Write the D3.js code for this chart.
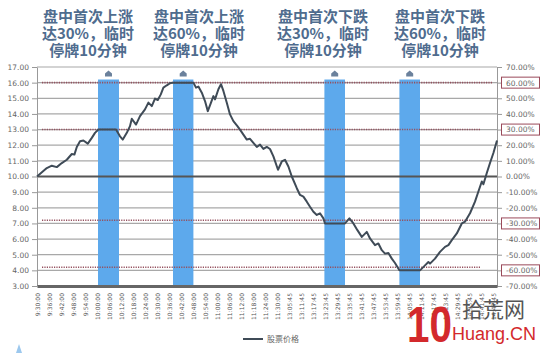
<!DOCTYPE html>
<html>
<head>
<meta charset="utf-8">
<script src="https://cdn.jsdelivr.net/npm/d3@7"></script>
<style>
  body { margin: 0; background: #fff; }
  svg { display: block; }
</style>
</head>
<body>
<svg id="chart"></svg>
<script>
// Category axis labels, one every 6 minutes of trading
const timeLabels = [
  '9:30:00', '9:36:00', '9:42:00', '9:48:00', '9:54:00', '10:00:00', '10:06:00',
  '10:12:00', '10:18:00', '10:24:00', '10:30:00', '10:36:00', '10:42:00', '10:48:00',
  '10:54:00', '11:00:00', '11:06:00', '11:12:00', '11:18:00', '11:24:00', '11:30:00',
  '13:05:45', '13:11:45', '13:17:45', '13:23:45', '13:29:45', '13:35:45', '13:41:45',
  '13:47:45', '13:53:45', '13:59:45', '14:05:45', '14:11:45', '14:17:45', '14:23:45',
  '14:29:45', '14:35:45', '14:41:45', '14:47:45'
];

// Stock price path: minute since open -> price
const minutes = [
  0, 4.9, 7.4, 9.9, 12.4, 14.9, 17.4, 18.7, 19.9, 21.5, 23.2, 25.4, 27.4, 29, 30.7,
  39.5, 41.5, 42.9, 44.9, 46.5, 47.4, 49.5, 51.5, 54, 55.7, 57.4, 59, 60.4, 61.9,
  63.2, 64.9, 66.5, 67.9, 78.2, 79.5, 80.7, 82.4, 84, 85.4, 87, 88.2, 89, 90.7,
  92, 93.2, 94.9, 96.5, 98.2, 100.2, 101.5, 103.2, 104.9, 106.5, 108.2, 109.9,
  111.5, 113.2, 114.9, 116.5, 118.2, 120.5, 122.4, 124, 125.7, 127.4, 129.9,
  131.5, 133.2, 134.9, 136.5, 138.2, 139.9, 141.5, 143.2, 144, 154, 156.2, 158.2,
  160.2, 162.4, 164.9, 166.5, 169, 170.7, 172.4, 174, 175.7, 177.4, 179, 181.2,
  191.5, 194, 195.7, 196.5, 199, 201.5, 204, 205.7, 207.4, 209.9, 212.4, 214,
  216.5, 219, 220.7, 222.4, 223.2, 224.9, 226.5, 228.2, 230
];
const prices = [
  10.0, 10.54, 10.69, 10.6, 10.86, 11.07, 11.44, 11.4, 11.89, 12.25, 12.3, 12.1, 12.47, 12.79, 13.0,
  13.0, 12.57, 12.36, 12.79, 13.22, 13.69, 13.32, 13.86, 14.29, 14.72, 14.5, 14.98, 14.89, 15.25,
  15.68, 15.83, 15.96, 16.0, 16.0, 15.68, 15.75, 15.36, 14.82, 14.18, 14.72, 15.14, 14.93, 15.58,
  15.9, 15.47, 14.72, 13.97, 13.54, 13.22, 13.0, 12.68, 12.36, 12.41, 12.15, 11.89,
  12.04, 11.76, 11.89, 11.76, 11.29, 10.43, 10.96, 11.07, 10.64, 10.0, 9.25,
  8.82, 8.71, 8.39, 8.07, 7.75, 7.54, 7.65, 7.32, 7.0, 7.0, 7.32, 7.0,
  6.57, 6.14, 6.46, 6.04, 5.61, 5.72, 5.29, 5.07, 5.11, 4.75, 4.47, 4.0,
  4.0, 4.32, 4.53, 4.43, 4.75, 5.18, 5.5, 5.61, 5.93, 6.36, 7.0, 7.11,
  7.65, 8.39, 9.04, 9.68, 9.5, 10.22, 10.86, 11.5, 12.3
];

// Trading halts: [start minute, end minute]
const halts = [[30.5, 41], [68, 78.2], [143.7, 154], [181.2, 191.5]];
const haltTop = 16.2;

// Reference levels (price) drawn as dotted lines, and boxed right-axis ticks
const refLevels = [16, 13, 7.2, 4.2];
const boxedPercents = [60, 30, -30, -60];

// Annotation text above each halt
const titles = [
  ['盘中首次上涨', '达30%，临时', '停牌10分钟'],
  ['盘中首次上涨', '达60%，临时', '停牌10分钟'],
  ['盘中首次下跌', '达30%，临时', '停牌10分钟'],
  ['盘中首次下跌', '达60%，临时', '停牌10分钟']
];
const legendLabel = '股票价格';

const width = 550, height = 353;
const titleX = [88, 199, 323, 440];

const svg = d3.select('#chart').attr('width', width).attr('height', height);

const x = d3.scaleLinear().domain([0, 230]).range([37, 497]);
const y = d3.scaleLinear().domain([3, 17]).range([286, 67]);
const yR = d3.scaleLinear().domain([-70, 70]).range([286, 67]);

// gridlines
svg.append('g')
  .selectAll('line')
  .data(d3.range(4, 18).filter(v => v !== 10))
  .enter().append('line')
  .attr('x1', x(0)).attr('x2', x(230))
  .attr('y1', d => y(d)).attr('y2', d => y(d))
  .attr('stroke', '#a8a8a8').attr('stroke-width', 1.2);

// halt bars
svg.append('g')
  .selectAll('rect')
  .data(halts)
  .enter().append('rect')
  .attr('x', d => x(d[0]))
  .attr('width', d => x(d[1]) - x(d[0]))
  .attr('y', y(haltTop))
  .attr('height', y(3) - y(haltTop))
  .attr('fill', '#5da9ec');

// small markers above the bars
svg.append('g')
  .selectAll('path')
  .data(halts)
  .enter().append('path')
  .attr('d', d => {
    const cx = x((d[0] + d[1]) / 2), t = y(haltTop) - 9;
    return `M${cx},${t} L${cx + 3.5},${t + 3} L${cx + 3.5},${t + 6} L${cx - 3.5},${t + 6} L${cx - 3.5},${t + 3} Z`;
  })
  .attr('fill', '#6b819c');

// zero line (10.00 / 0%)
svg.append('line')
  .attr('x1', x(0)).attr('x2', x(230))
  .attr('y1', y(10)).attr('y2', y(10))
  .attr('stroke', '#555').attr('stroke-width', 2);

// dotted reference lines
svg.append('g')
  .selectAll('line')
  .data(refLevels)
  .enter().append('line')
  .attr('x1', 42).attr('x2', (d, i) => i % 2 ? 480 : 492)
  .attr('y1', d => y(d)).attr('y2', d => y(d))
  .attr('stroke', '#94505e').attr('stroke-width', 1.6)
  .attr('stroke-dasharray', '1.2,1.2');

// left axis
const leftAxis = svg.append('g')
  .attr('transform', 'translate(' + x(0) + ',0)')
  .call(d3.axisLeft(y).tickValues(d3.range(3, 18)).tickFormat(d3.format('.2f'))
    .tickSize(5).tickSizeOuter(0).tickPadding(3));

// right axis
const rightAxis = svg.append('g')
  .attr('transform', 'translate(' + x(230) + ',0)')
  .call(d3.axisRight(yR).tickValues(d3.range(-70, 71, 10)).tickFormat(d => d.toFixed(2) + '%')
    .tickSize(5).tickSizeOuter(0).tickPadding(4));

[leftAxis, rightAxis].forEach(g => {
  g.select('.domain').attr('stroke', '#999');
  g.selectAll('.tick line').attr('stroke', '#999');
  g.selectAll('text')
    .attr('font-family', 'DejaVu Sans')
    .attr('font-size', 7.5)
    .attr('fill', '#666');
});

// boxes round the key percentages
svg.append('g')
  .selectAll('rect')
  .data(boxedPercents)
  .enter().append('rect')
  .attr('x', x(230) + 4.5)
  .attr('y', d => yR(d) - 5.5)
  .attr('width', 38)
  .attr('height', 11)
  .attr('fill', 'none')
  .attr('stroke', '#9a4a5a')
  .attr('stroke-width', 1);

// bottom axis
const bottomAxis = svg.append('g')
  .attr('transform', 'translate(0,' + y(3) + ')')
  .call(d3.axisBottom(x).tickValues(timeLabels.map((d, i) => i * 6))
    .tickFormat((d, i) => timeLabels[i]).tickSize(0).tickSizeOuter(0));

bottomAxis.select('.domain').attr('stroke', '#666').attr('stroke-width', 3);
bottomAxis.selectAll('text')
  .attr('transform', 'rotate(-90)')
  .attr('x', -7)
  .attr('y', 0)
  .attr('dy', '0.35em')
  .attr('text-anchor', 'end')
  .attr('font-family', 'DejaVu Sans')
  .attr('font-size', 6)
  .attr('fill', '#555');

// price line
const line = d3.line()
  .x((d, i) => x(minutes[i]))
  .y(d => y(d));

svg.append('path')
  .datum(prices)
  .attr('d', line)
  .attr('fill', 'none')
  .attr('stroke', '#3f4b57')
  .attr('stroke-width', 2)
  .attr('stroke-linejoin', 'round');

// titles
titles.forEach((lines, k) => {
  svg.append('text')
    .attr('x', titleX[k])
    .attr('font-family', 'Noto Sans CJK SC')
    .attr('font-weight', 'bold')
    .attr('font-size', 15)
    .attr('fill', '#4f6c8e')
    .attr('text-anchor', 'middle')
    .selectAll('tspan')
    .data(lines)
    .enter().append('tspan')
    .attr('x', titleX[k])
    .attr('y', (d, i) => 22 + i * 17)
    .text(d => d);
});

// legend
svg.append('line')
  .attr('x1', 243).attr('x2', 263).attr('y1', 339).attr('y2', 339)
  .attr('stroke', '#3f4b57').attr('stroke-width', 2);
svg.append('text')
  .attr('x', 267).attr('y', 342)
  .attr('font-family', 'Noto Sans CJK SC')
  .attr('font-size', 8)
  .attr('fill', '#666')
  .text(legendLabel);

// decorative triangle, bottom left
svg.append('path')
  .attr('d', 'M13,362 L19,344 L25,362 Z')
  .attr('fill', '#9cc8ee');

// watermark
svg.append('text')
  .attr('x', 407).attr('y', 342)
  .attr('font-family', 'Liberation Sans')
  .attr('font-weight', 'bold')
  .attr('font-size', 50)
  .attr('textLength', 45)
  .attr('lengthAdjust', 'spacingAndGlyphs')
  .attr('fill', '#d3292c')
  .text('10');
svg.append('text')
  .attr('x', 462).attr('y', 317)
  .attr('font-family', 'Noto Sans CJK SC')
  .attr('font-size', 21)
  .attr('fill', '#555')
  .text('拾荒网');
svg.append('text')
  .attr('x', 452).attr('y', 340)
  .attr('font-family', 'Liberation Sans')
  .attr('font-size', 18)
  .attr('fill', '#d3292c')
  .text('Huang.CN');
</script>
</body>
</html>
